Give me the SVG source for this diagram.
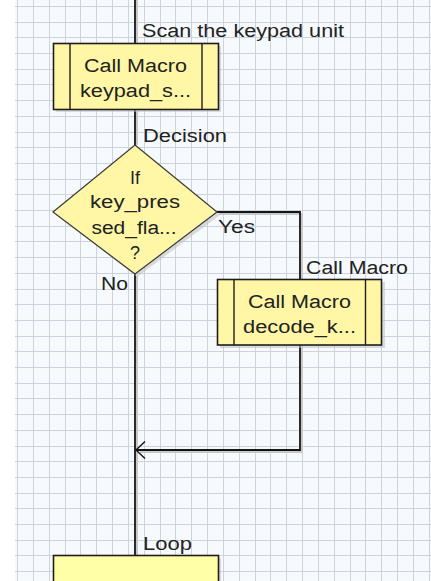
<svg xmlns="http://www.w3.org/2000/svg" width="431" height="581" viewBox="0 0 431 581">
<style>
  .grid{stroke:#ccd3dd;stroke-width:1;fill:none}
  .wire{stroke:#141414;stroke-width:1.8;fill:none}
  .shadow{stroke:#c8c8c8;stroke-width:2;fill:none}
  .box{fill:#fff7a6;stroke:#1e1e1e;stroke-width:1.6}
  .boxshadow{fill:#bdbdbd;opacity:0.55}
  .bar{stroke:#1e1e1e;stroke-width:1.4}
  .dia{fill:#fff7a6;stroke:#3a3a3a;stroke-width:1.2}
  .head{fill:none;stroke:#141414;stroke-width:1.4}
  text{font-family:"Liberation Sans",Arial,sans-serif;font-size:18px;fill:#222}
  .c{text-anchor:middle}
</style>
<rect x="0" y="0" width="431" height="581" fill="#ffffff"/>
<rect x="15" y="0" width="416" height="581" fill="#f7fafd"/>
<path class="grid" d="M17.5 0V581M33.5 0V581M49.5 0V581M65.5 0V581M80.5 0V581M96.5 0V581M112.5 0V581M128.5 0V581M144.5 0V581M160.5 0V581M175.5 0V581M191.5 0V581M207.5 0V581M223.5 0V581M239.5 0V581M255.5 0V581M270.5 0V581M286.5 0V581M302.5 0V581M318.5 0V581M334.5 0V581M350.5 0V581M365.5 0V581M381.5 0V581M397.5 0V581M413.5 0V581M429.5 0V581
M15 6.5H431M15 22.5H431M15 37.5H431M15 53.5H431M15 69.5H431M15 84.5H431M15 100.5H431M15 116.5H431M15 132.5H431M15 147.5H431M15 163.5H431M15 179.5H431M15 194.5H431M15 210.5H431M15 226.5H431M15 241.5H431M15 257.5H431M15 273.5H431M15 289.5H431M15 304.5H431M15 320.5H431M15 336.5H431M15 351.5H431M15 367.5H431M15 383.5H431M15 398.5H431M15 414.5H431M15 430.5H431M15 446.5H431M15 461.5H431M15 477.5H431M15 493.5H431M15 508.5H431M15 524.5H431M15 540.5H431M15 555.5H431M15 571.5H431"/>

<g id="connectors">
  <path class="shadow" d="M137 0V43M137 111V145M137 276V555M219 214H302V279M302 347V452H140"/>
  <path class="wire" d="M135 0V43"/>
  <path class="wire" d="M135 109V145"/>
  <path class="wire" d="M135 274V555"/>
  <path class="wire" d="M217 212H300V279"/>
  <path class="wire" d="M300 345V450H136"/>
  <path class="head" d="M145 441.5L136 450L145 458.5"/>
  <text x="218" y="233" textLength="37" lengthAdjust="spacingAndGlyphs">Yes</text>
  <text x="101" y="290" textLength="27" lengthAdjust="spacingAndGlyphs">No</text>
</g>

<g id="node-scan">
  <text x="142" y="37" textLength="202" lengthAdjust="spacingAndGlyphs">Scan the keypad unit</text>
  <rect class="boxshadow" x="56" y="46" width="165" height="66"/>
  <rect class="box" x="53.5" y="43.5" width="165" height="66"/>
  <line class="bar" x1="70" y1="43.5" x2="70" y2="109.5"/>
  <line class="bar" x1="202" y1="43.5" x2="202" y2="109.5"/>
  <text class="c" x="135.5" y="72" textLength="103" lengthAdjust="spacingAndGlyphs">Call Macro</text>
  <text class="c" x="135.5" y="97" textLength="111" lengthAdjust="spacingAndGlyphs">keypad_s...</text>
</g>

<g id="node-decision">
  <text x="143" y="142" textLength="84" lengthAdjust="spacingAndGlyphs">Decision</text>
  <polygon class="boxshadow" points="137,148 220,215 137,277 56,215"/>
  <polygon class="dia" points="135,145 217,212 135,274 53,212"/>
  <text class="c" x="135" y="184">If</text>
  <text class="c" x="135" y="208" textLength="90" lengthAdjust="spacingAndGlyphs">key_pres</text>
  <text class="c" x="134" y="234" textLength="85" lengthAdjust="spacingAndGlyphs">sed_fla...</text>
  <text class="c" x="135" y="259">?</text>
</g>

<g id="node-decode">
  <text x="306" y="274" textLength="102" lengthAdjust="spacingAndGlyphs">Call Macro</text>
  <rect class="boxshadow" x="220" y="282" width="165" height="66"/>
  <rect class="box" x="217.5" y="279.5" width="164" height="65.5"/>
  <line class="bar" x1="234" y1="279.5" x2="234" y2="345"/>
  <line class="bar" x1="365.5" y1="279.5" x2="365.5" y2="345"/>
  <text class="c" x="299.5" y="308" textLength="103" lengthAdjust="spacingAndGlyphs">Call Macro</text>
  <text class="c" x="299.5" y="333" textLength="113" lengthAdjust="spacingAndGlyphs">decode_k...</text>
</g>

<g id="node-loop">
  <text x="143" y="550" textLength="49" lengthAdjust="spacingAndGlyphs">Loop</text>
  <rect class="boxshadow" x="56" y="558" width="165" height="40"/>
  <rect class="box" x="53.5" y="555.5" width="165" height="40" style="fill:#ffffa8"/>
</g>
</svg>
